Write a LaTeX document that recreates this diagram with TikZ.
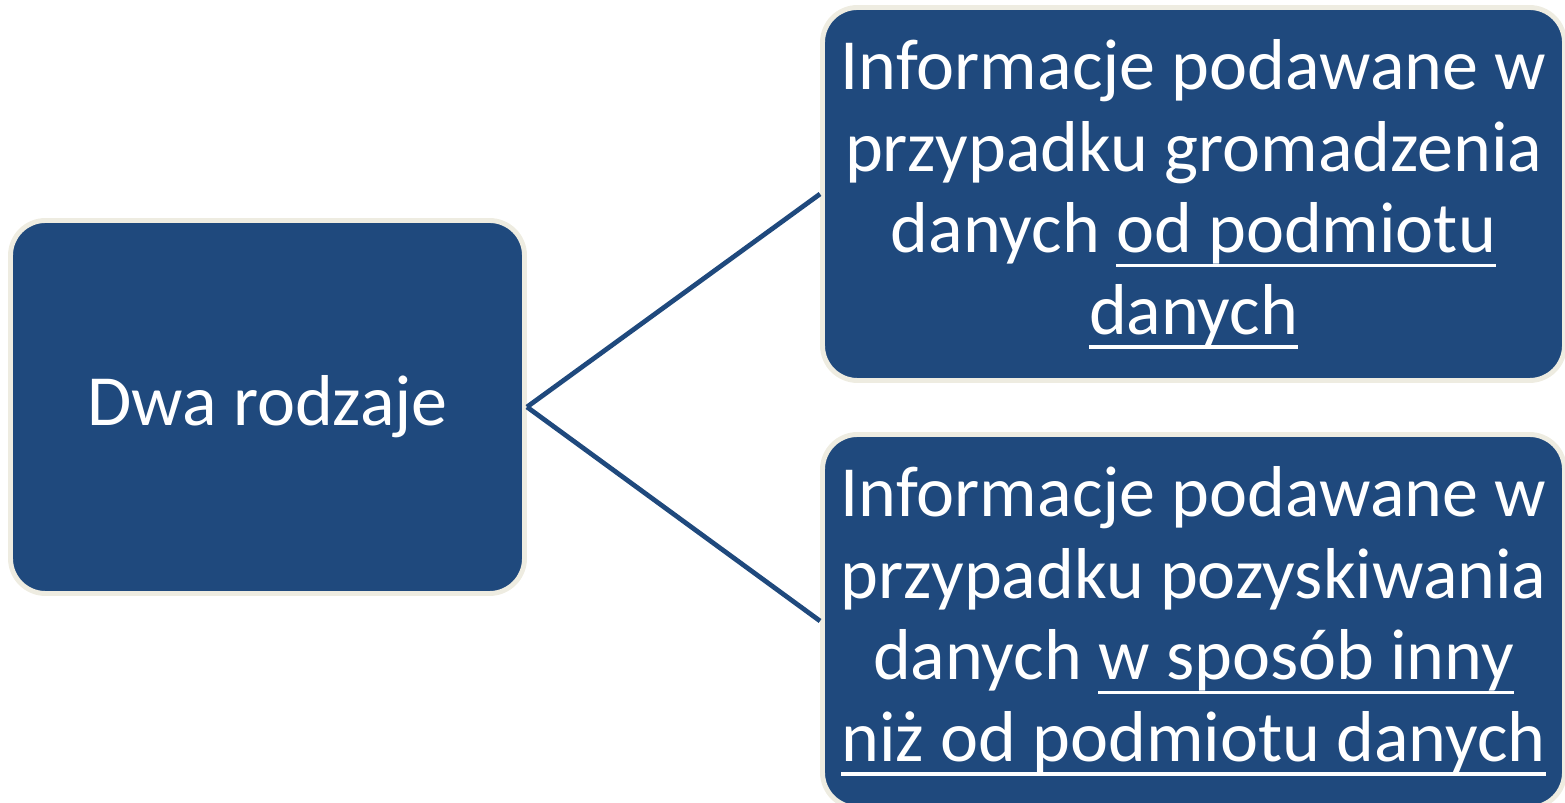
\documentclass[tikz,border=0pt]{standalone}
\usepackage{fontspec}
\setmainfont{Carlito}
\usetikzlibrary{positioning}
\definecolor{boxblue}{HTML}{1F497D}
\definecolor{boxrim}{HTML}{EEECE1}
\newcommand{\undl}[1]{\setbox0\hbox{#1}\rlap{\rule[-8pt]{\wd0}{1.8pt}}\box0}

\begin{document}
\begin{tikzpicture}[%
		kind/.style={
			rectangle,
			rounded corners=7mm,
			fill=boxblue,
			draw=boxrim,
			line width=2.8pt,
			text=white,
			align=center,
			font=\fontsize{41}{46.5}\selectfont
		},
		rootbox/.style={
			minimum width=102.8mm,
			minimum height=74.6mm
		},
		infobox/.style={
			minimum width=148.4mm,
			minimum height=74.6mm
		},
		branch/.style={
			boxblue,
			line width=2.7pt
		}]

		\useasboundingbox (0,0) rectangle (31.3,16.06);

		% BOXES

		\node (dwa) [kind,rootbox] at (5.35,7.92) {Dwa rodzaje};
		\node (gromadz) [kind,infobox] at (23.87,12.18) {Informacje podawane w\\ przypadku gromadzenia\\ danych \undl{od podmiotu}\\ \undl{danych}};
		\node (pozysk) [kind,infobox] at (23.87,3.64) {Informacje podawane w\\ przypadku pozyskiwania\\ danych \undl{w sposób inny}\\ \undl{niż od podmiotu danych}};

		% LINES

		\draw[branch] (dwa.east) -- (gromadz.west);
		\draw[branch] (dwa.east) -- (pozysk.west);
\end{tikzpicture}
\end{document}
